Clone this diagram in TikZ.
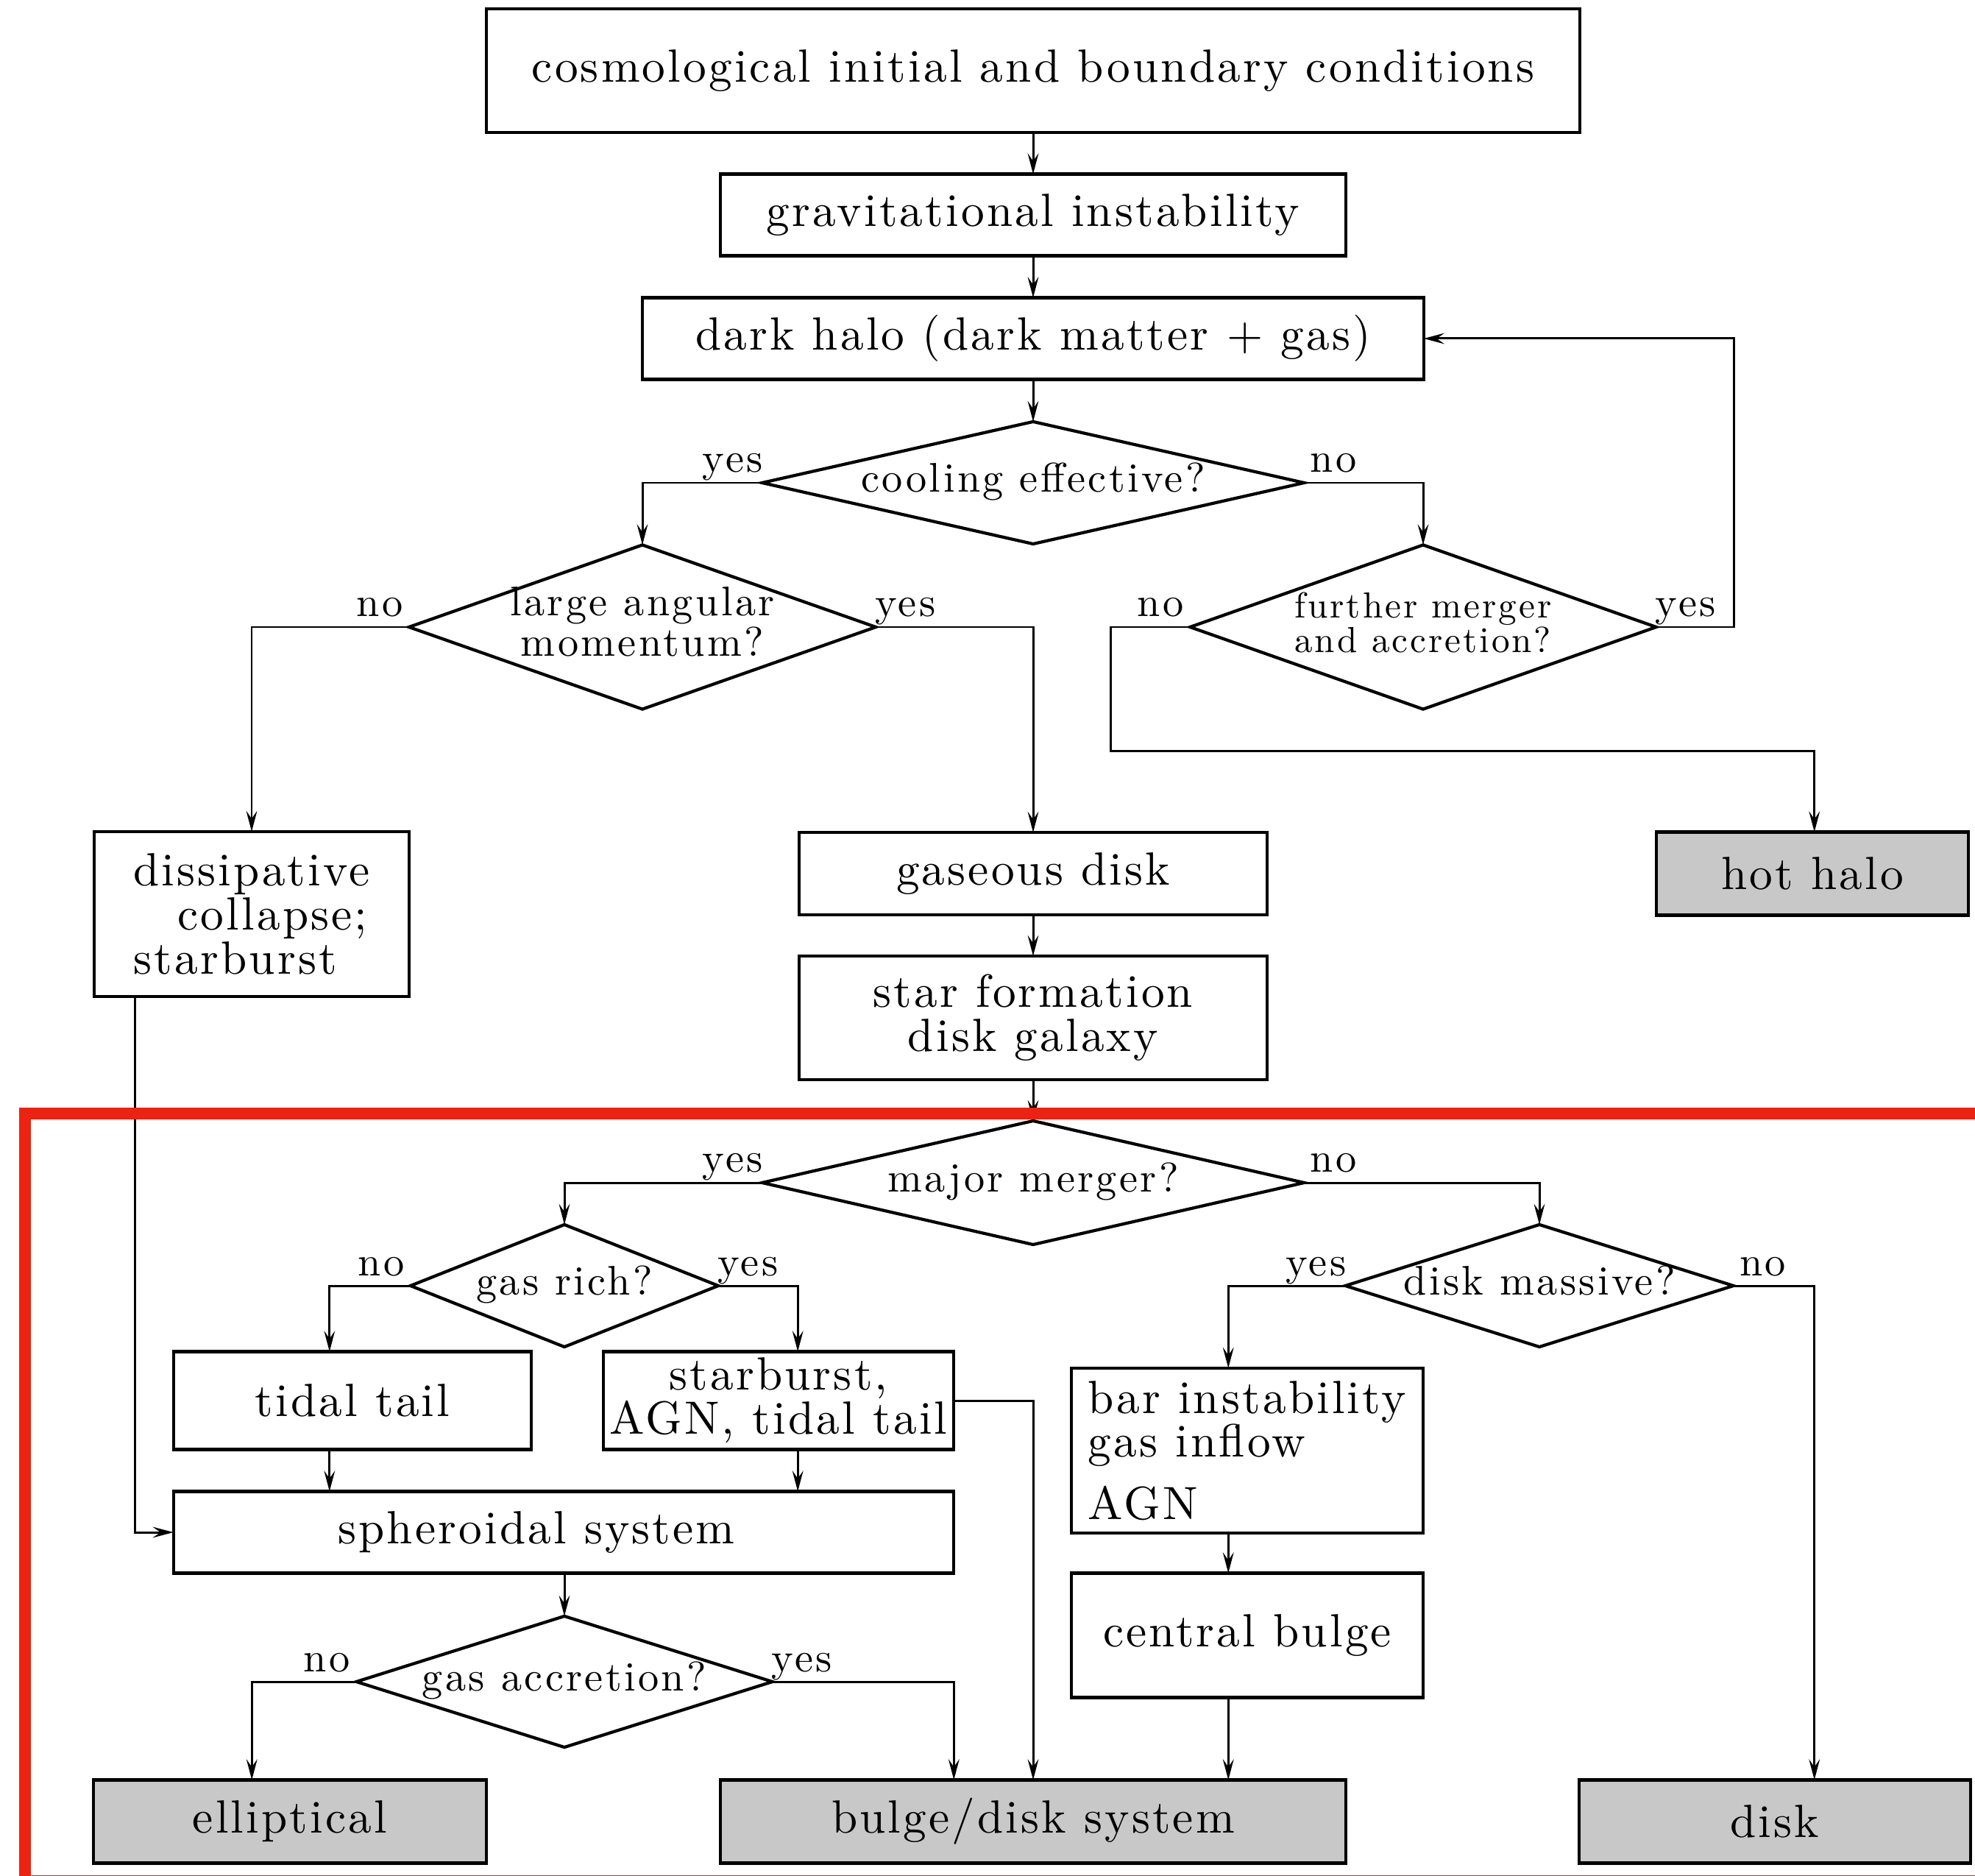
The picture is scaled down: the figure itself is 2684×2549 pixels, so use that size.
\documentclass[tikz,border=0pt]{standalone}
\usepackage{fontspec}
\setmainfont{lmroman10-regular.otf}[LetterSpace=5]
\usetikzlibrary{shapes.geometric,arrows.meta}

\definecolor{endgray}{RGB}{200,200,200}
\definecolor{markred}{RGB}{236,34,18}

\newcommand{\boxfont}{\fontsize{18}{17}\selectfont}
\newcommand{\askfont}{\fontsize{16}{14.5}\selectfont\addfontfeatures{LetterSpace=6}}
\newcommand{\ask}[2][c]{\makebox[0pt]{\begin{tabular}{@{}#1@{}}#2\end{tabular}}}

\tikzset{
	stage/.style={draw, line width=1.2pt, inner sep=0pt, outer sep=0pt, align=center, font=\boxfont},
	outcome/.style={stage, fill=endgray},
	query/.style={diamond, draw, line width=1.2pt, inner sep=0pt, outer sep=0pt, font=\askfont},
	flow/.style={line width=0.85pt, -{Stealth[length=8pt, width=4.2pt, inset=3pt]}},
	yesno/.style={font=\askfont, inner sep=0pt, anchor=base},
	leftans/.style={yesno, xshift=-0.40cm, yshift=0.14cm},
	rightans/.style={yesno, xshift=0.40cm, yshift=0.14cm}
}

\begin{document}
\begin{tikzpicture}[x=0.01cm, y=-0.01cm]
			%%%%% START %%%%%
			\useasboundingbox (0, 0) rectangle (2684, 2549);
			
			\node[stage, minimum width=14.85cm, minimum height=1.68cm] (init) at (1404, 96) {cosmological initial and boundary conditions};
			\node[stage, minimum width=8.49cm, minimum height=1.11cm] (grav) at (1404, 292) {gravitational instability};
			\node[stage, minimum width=10.61cm, minimum height=1.11cm] (halo) at (1404, 460) {dark halo (dark matter + gas)};
			
			\node[query, minimum width=7.36cm, minimum height=1.66cm] (cool) at (1404, 656) {\ask{cooling effective?}};
			\node[query, minimum width=6.34cm, minimum height=2.23cm] (angmom) at (873, 852) {\ask{large angular\\momentum?}};
			\node[query, minimum width=6.33cm, minimum height=2.23cm, font=\askfont\fontsize{14}{12}\selectfont] (further) at (1934, 852) {\ask[l]{further merger\\and accretion?}};
			
			\node[stage, minimum width=4.27cm, minimum height=2.24cm, align=left] (collapse) at (342, 1242) {dissipative\\\hspace*{0.6cm}collapse;\\starburst};
			\node[stage, minimum width=6.36cm, minimum height=1.12cm] (gasdisk) at (1404, 1187) {gaseous disk};
			\node[stage, minimum width=6.36cm, minimum height=1.68cm] (sfdisk) at (1404, 1383) {star formation\\disk galaxy};
			\node[outcome, minimum width=4.24cm, minimum height=1.13cm] (hothalo) at (2463, 1187) {hot halo};
			
			\node[query, minimum width=7.36cm, minimum height=1.68cm] (major) at (1404, 1607) {\ask{major merger?}};
			\node[query, minimum width=4.18cm, minimum height=1.66cm] (gasrich) at (767, 1747) {\ask{gas rich?}};
			\node[query, minimum width=5.27cm, minimum height=1.66cm] (massive) at (2092, 1747) {\ask{disk massive?}};
			
			\node[stage, minimum width=4.86cm, minimum height=1.33cm] (tidal) at (479, 1903) {tidal tail};
			\node[stage, minimum width=4.76cm, minimum height=1.33cm] (burst) at (1058, 1903) {starburst,\\AGN, tidal tail};
			\node[stage, minimum width=10.60cm, minimum height=1.11cm] (spheroid) at (766, 2082) {spheroidal system\hspace*{0.74cm}};
			\node[stage, minimum width=4.77cm, minimum height=2.24cm, align=left] (bar) at (1695, 1971) {bar instability\\gas inflow\\[7pt]AGN};
			\node[stage, minimum width=4.77cm, minimum height=1.69cm] (bulge) at (1695, 2222) {central bulge};
			\node[query, minimum width=5.65cm, minimum height=1.78cm] (accrete) at (767, 2285) {\ask{gas accretion?}};
			
			\node[outcome, minimum width=5.33cm, minimum height=1.13cm] (elliptical) at (394, 2475) {elliptical};
			\node[outcome, minimum width=8.49cm, minimum height=1.13cm] (bdsys) at (1404, 2475) {bulge/disk system};
			\node[outcome, minimum width=5.32cm, minimum height=1.13cm] (disk) at (2412, 2475) {disk};
			
			\coordinate (loopcol) at ([xshift=1.06cm]further.east);
			\coordinate (hotcol) at ([xshift=-1.08cm]further.west);
			\coordinate (collcol) at ([xshift=0.55cm]collapse.south west);
			\coordinate (tidalcol) at ([xshift=-1.10cm]gasrich.west);
			\coordinate (burstcol) at ([xshift=1.08cm]gasrich.east);
			\coordinate (barcol) at ([xshift=-1.59cm]massive.west);
			\coordinate (diskcol) at ([xshift=1.10cm]massive.east);
			\coordinate (ellcol) at ([xshift=-1.42cm]accrete.west);
			
			\draw[flow] (init) -- (grav);
			\draw[flow] (grav) -- (halo);
			\draw[flow] (halo) -- (cool);
			\draw[flow] (cool.west) node[leftans] (coolyes) {yes} -| (angmom.north);
			\draw[flow] (cool.east) node[rightans] (coolno) {no} -| (further.north);
			\draw[flow] (angmom.west) node[leftans] (angno) {no} -| (collapse.north);
			\draw[flow] (angmom.east) node[rightans] (angyes) {yes} -| (gasdisk.north);
			\draw[flow] (further.east) node[rightans] (furtheryes) {yes} -- (loopcol) |- (halo.east);
			\draw[flow] (further.west) node[leftans] (furtherno) {no} -- (hotcol) -- ([yshift=-1.68cm]hotcol) -| (diskcol |- hothalo.north);
			\draw[flow] (gasdisk) -- (sfdisk);
			\draw[flow] (sfdisk) -- (major);
			
			\draw[flow] (major.west) node[leftans] (majoryes) {yes} -| (gasrich.north);
			\draw[flow] (major.east) node[rightans] (majorno) {no} -| (massive.north);
			\draw[flow] (gasrich.west) node[leftans] (richno) {no} -| (tidalcol |- tidal.north);
			\draw[flow] (gasrich.east) node[rightans] (richyes) {yes} -| (burstcol |- burst.north);
			\draw[flow] (massive.west) node[leftans] (massyes) {yes} -| (barcol |- bar.north);
			\draw[flow] (massive.east) node[rightans] (massno) {no} -| (diskcol |- disk.north);
			\draw[flow] (tidalcol |- tidal.south) -- (tidalcol |- spheroid.north);
			\draw[flow] (burstcol |- burst.south) -- (burstcol |- spheroid.north);
			\draw[flow] (collcol) |- (spheroid.west);
			\draw[flow] (burst.east) -| (bdsys.north);
			\draw[flow] (spheroid.south -| accrete.north) -- (accrete.north);
			\draw[flow] (accrete.west) node[leftans] (accno) {no} -| (ellcol |- elliptical.north);
			\draw[flow] (accrete.east) node[rightans] (accyes) {yes} -| (spheroid.east |- bdsys.north);
			\draw[flow] (barcol |- bar.south) -- (barcol |- bulge.north);
			\draw[flow] (barcol |- bulge.south) -- (barcol |- bdsys.north);
			
			\draw[line width=0.16cm, color=markred] (34, 1513) rectangle (2700, 2556);
			%%%%% END %%%%%
\end{tikzpicture}
\end{document}
